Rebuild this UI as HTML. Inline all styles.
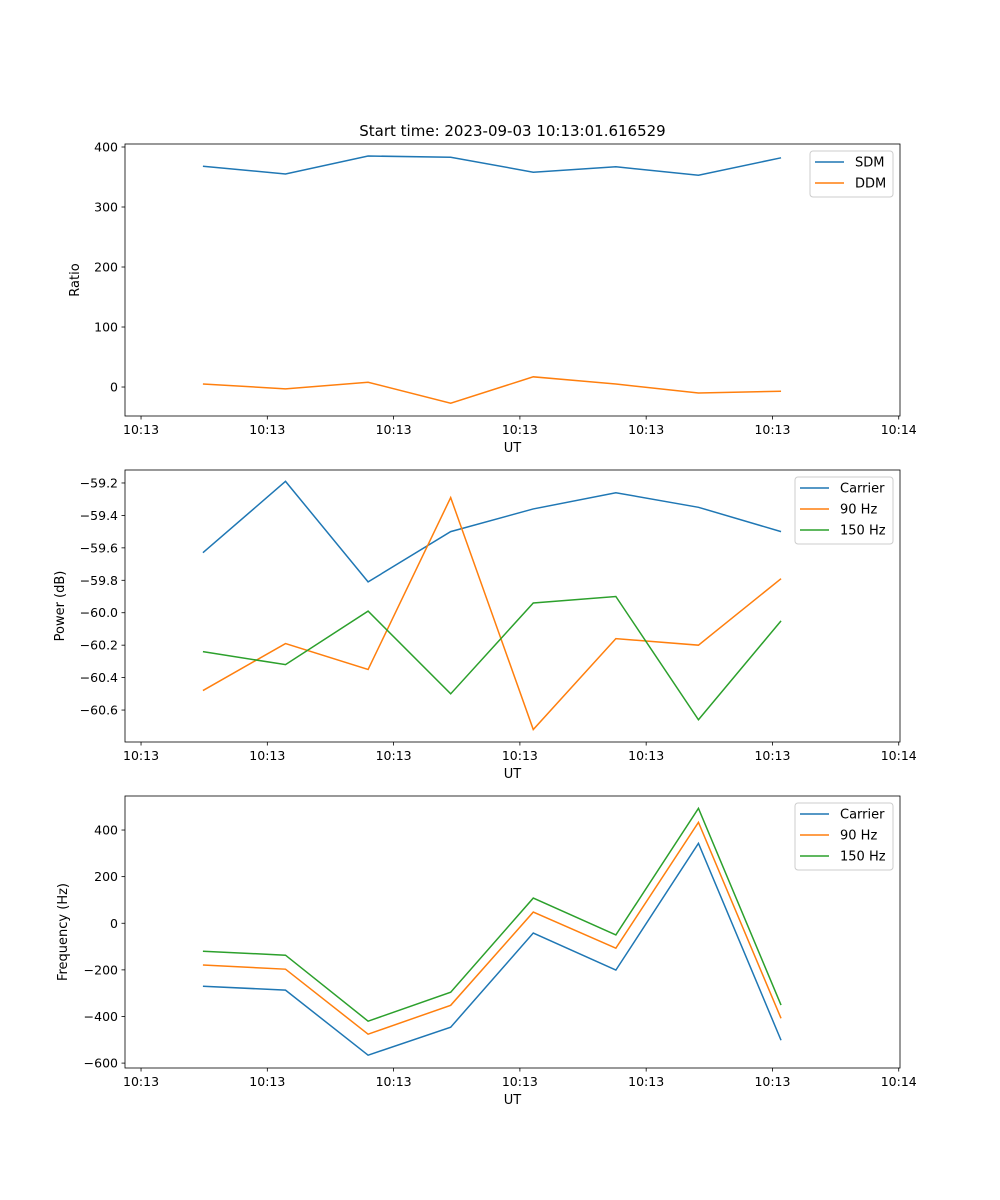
<!DOCTYPE html>
<html><head><meta charset="utf-8"><style>
html,body{margin:0;padding:0;background:#fff}
svg{display:block;font-family:"DejaVu Sans","Liberation Sans",sans-serif}
</style></head><body>
<svg id="fig" width="1000" height="1200" viewBox="0 0 1000 1200" xmlns="http://www.w3.org/2000/svg">
<rect width="1000" height="1200" fill="#fff"/>
<text x="512.5" y="136" font-size="15" text-anchor="middle">Start time: 2023-09-03 10:13:01.616529</text>
</svg>
<script>
// shared x data (seconds offsets)
const times = [4.9, 11.44, 17.98, 24.52, 31.06, 37.6, 44.14, 50.68];
const xTickVals = [0, 10, 20, 30, 40, 50, 60];
const xTickLabels = ["10:13","10:13","10:13","10:13","10:13","10:13","10:14"];
// panel 1
const sdm = [368, 355, 385, 383, 358, 367, 353, 382];
const ddm = [5, -3, 8, -27, 17, 5, -10, -7];
const ratioTicks = [0, 100, 200, 300, 400];
// panel 2
const powCarrier = [-59.63, -59.19, -59.81, -59.50, -59.36, -59.26, -59.35, -59.50];
const pow90 = [-60.48, -60.19, -60.35, -59.29, -60.72, -60.16, -60.20, -59.79];
const pow150 = [-60.24, -60.32, -59.99, -60.50, -59.94, -59.90, -60.66, -60.05];
const powTicks = [-60.6, -60.4, -60.2, -60.0, -59.8, -59.6, -59.4, -59.2];
// panel 3
const freqCarrier = [-270, -287, -566, -446, -42, -201, 343, -502];
const freq90 = [-179, -197, -476, -352, 48, -107, 433, -408];
const freq150 = [-120, -137, -420, -296, 108, -50, 493, -351];
const freqTicks = [-600, -400, -200, 0, 200, 400];

const NS = "http://www.w3.org/2000/svg";
const svg = document.getElementById('fig');
const L = 125, R = 900, XMIN = -1.27, XMAX = 60.1;
const C = {blue:"#1f77b4", orange:"#ff7f0e", green:"#2ca02c"};
function mk(tag, attrs, parent){const e=document.createElementNS(NS,tag);for(const k in attrs)e.setAttribute(k,attrs[k]);(parent||svg).appendChild(e);return e;}
function xs(t){return L+(t-XMIN)/(XMAX-XMIN)*(R-L);}

function panel(name, top, bot, ymin, ymax, ticks, fmt, ylabel, ylabelX, series, legend){
  const g = mk('g',{});
  
  
  const ys = v => bot-(v-ymin)/(ymax-ymin)*(bot-top);
  series.forEach(s=>{
    const pts = s.vals.map((v,i)=>xs(times[i]).toFixed(2)+","+ys(v).toFixed(2)).join(" ");
    const pl = mk('polyline',{points:pts,fill:"none",stroke:s.color,"stroke-width":1.5},g);
    
    
  });
  const frame = mk('rect',{x:L,y:top,width:R-L,height:bot-top,fill:"none",stroke:"#000","stroke-width":0.8},g);
  
  
  xTickVals.forEach((t,i)=>{
    const x = xs(t);
    mk('line',{x1:x,x2:x,y1:bot,y2:bot+3.5,stroke:"#000","stroke-width":0.8},g);
    const tx = mk('text',{x:x,y:bot+18,"font-size":12.5,"text-anchor":"middle"},g);
    
    
    tx.textContent = xTickLabels[i];
  });
  const xl = mk('text',{x:(L+R)/2,y:bot+36,"font-size":13,"text-anchor":"middle"},g);
  
  
  xl.textContent = "UT";
  ticks.forEach(v=>{
    const y = ys(v);
    mk('line',{x1:L-3.5,x2:L,y1:y,y2:y,stroke:"#000","stroke-width":0.8},g);
    const tx = mk('text',{x:L-7,y:y+4.5,"font-size":12.5,"text-anchor":"end"},g);
    
    
    tx.textContent = fmt(v);
  });
  const yl = mk('text',{x:ylabelX,y:(top+bot)/2,"font-size":13,"text-anchor":"middle",transform:`rotate(-90 ${ylabelX} ${(top+bot)/2})`},g);
  
  
  yl.textContent = ylabel;
  const lg = mk('g',{},g);
  
  
  const h = 4 + series.length*21;
  mk('rect',{x:legend.x,y:top+7,width:R-7-legend.x,height:h,rx:3,fill:"#fff","fill-opacity":0.8,stroke:"#ccc","stroke-width":1},lg);
  series.forEach((s,i)=>{
    const y = top+18+i*21;
    mk('line',{x1:legend.x+5,x2:legend.x+34,y1:y,y2:y,stroke:s.color,"stroke-width":1.5},lg);
    const tx = mk('text',{x:legend.x+45,y:y+4.5,"font-size":13},lg);
    
    
    tx.textContent = s.label;
  });
}
function fmtMinus(d){return v=>{const s=Math.abs(v).toFixed(d);return (v<0?"\u2212":"")+s;};}
panel('ratio-panel',144,416,-48.3,405,ratioTicks,fmtMinus(0),"Ratio",79,
  [{id:'sdm-line',vals:sdm,color:C.blue,label:"SDM"},{id:'ddm-line',vals:ddm,color:C.orange,label:"DDM"}],{x:810});
panel('power-panel',470,742,-60.797,-59.12,powTicks,fmtMinus(1),"Power (dB)",64,
  [{id:'power-carrier-line',vals:powCarrier,color:C.blue,label:"Carrier"},{id:'power-90hz-line',vals:pow90,color:C.orange,label:"90 Hz"},{id:'power-150hz-line',vals:pow150,color:C.green,label:"150 Hz"}],{x:795});
panel('frequency-panel',796,1068,-621,546,freqTicks,fmtMinus(0),"Frequency (Hz)",67,
  [{id:'freq-carrier-line',vals:freqCarrier,color:C.blue,label:"Carrier"},{id:'freq-90hz-line',vals:freq90,color:C.orange,label:"90 Hz"},{id:'freq-150hz-line',vals:freq150,color:C.green,label:"150 Hz"}],{x:795});
</script>
</body></html>
